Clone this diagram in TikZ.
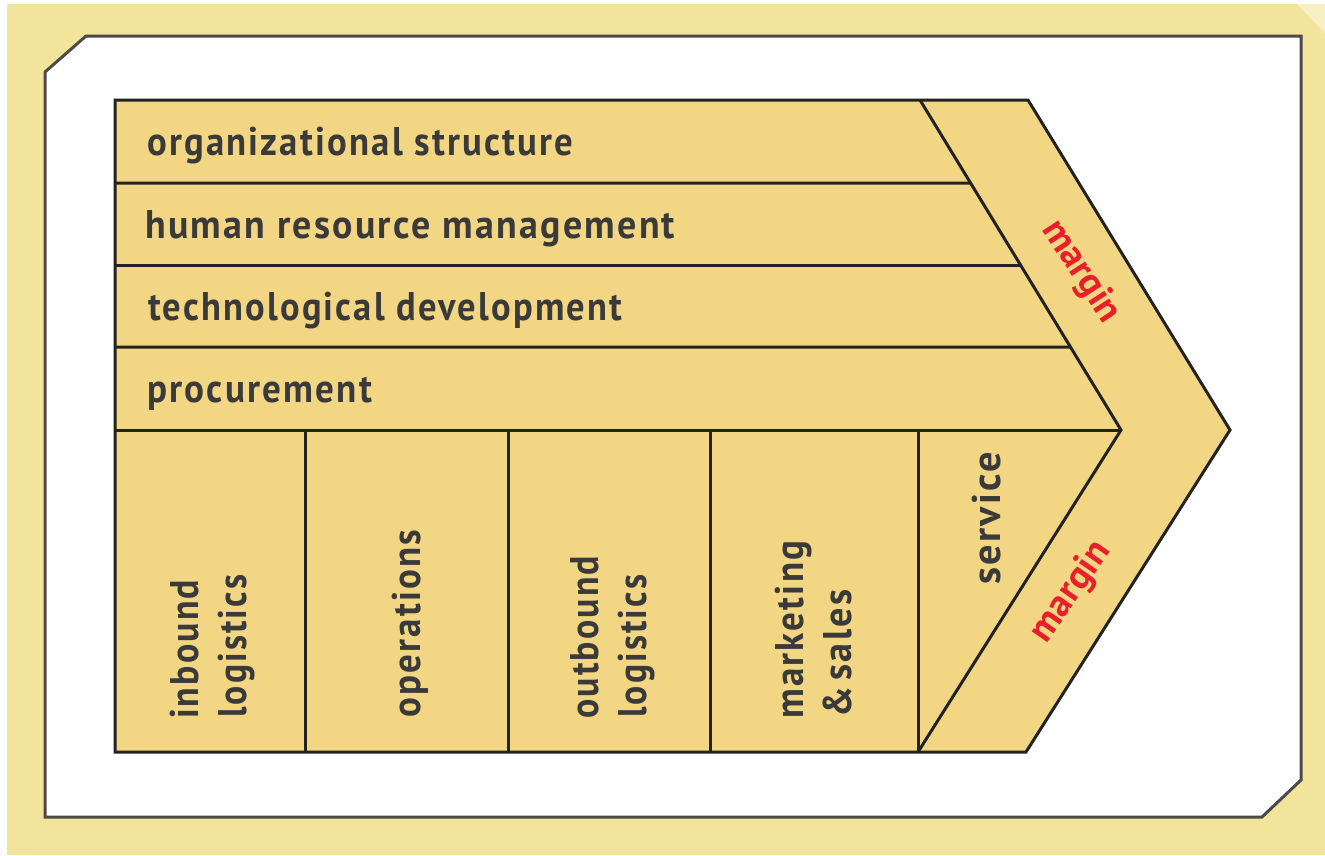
\documentclass[tikz,border=0pt]{standalone}
\usepackage{fontspec}
\usepackage{graphicx}
\usetikzlibrary{calc}
\newfontfamily\lblfont{PT Sans}[LetterSpace=6]
\newfontfamily\mfont{PT Sans}
\definecolor{bgyellow}{HTML}{F2E59B}
\definecolor{cellfill}{HTML}{F2D684}
\definecolor{ink}{HTML}{222222}
\definecolor{cardink}{HTML}{4A4A4A}
\definecolor{txt}{HTML}{3A3A3A}
\definecolor{mred}{HTML}{E8202A}
\definecolor{curl}{HTML}{F8EFC4}
\newcommand{\fitw}[2]{\resizebox{#1pt}{\height}{#2}}
\begin{document}
\begin{tikzpicture}[x=1pt,y=-1pt,
  lbl/.style={inner sep=0pt, text=txt, font=\lblfont\bfseries\fontsize{40}{44}\selectfont},
  mlbl/.style={inner sep=0pt, text=mred, font=\mfont\bfseries\fontsize{38}{40}\selectfont},
  cellline/.style={draw=ink, line width=3pt, line join=miter},
  cardline/.style={draw=cardink, line width=3pt}]
\useasboundingbox (0,0) rectangle (1325,855);
\fill[white] (0,0) rectangle (1325,855);
\fill[bgyellow] (7,4) rectangle (1325,855);
\fill[curl] (1297,4) -- (1325,4) -- (1325,33) -- cycle;
% card
\draw[cardline, fill=white] (45,72) -- (86,36) -- (1301,36) -- (1301,780) -- (1262,817) -- (45,817) -- cycle;
% chevron shape
\coordinate (tl) at (115,100);
\coordinate (tr) at (1028,100);
\coordinate (tip) at (1230,430);
\coordinate (br) at (1026,752);
\coordinate (bl) at (115,752);
\coordinate (d0) at (920,100);
\coordinate (dtip) at (1121,430);
\coordinate (d5) at (918,752);
\fill[cellfill] (tl) -- (tr) -- (tip) -- (br) -- (bl) -- cycle;
% rows
\coordinate (r1) at (115,183);
\coordinate (r2) at (115,265);
\coordinate (r3) at (115,347);
\coordinate (r4) at (115,430);
\coordinate (e1) at ($(d0)!83/330!(dtip)$);
\coordinate (e2) at ($(d0)!165/330!(dtip)$);
\coordinate (e3) at ($(d0)!247/330!(dtip)$);
\draw[cellline] (r1) -- (e1);
\draw[cellline] (r2) -- (e2);
\draw[cellline] (r3) -- (e3);
\draw[cellline] (r4) -- (dtip);
% columns
\coordinate (c1t) at (305,430); \coordinate (c1b) at (305,752);
\coordinate (c2t) at (508,430); \coordinate (c2b) at (508,752);
\coordinate (c3t) at (710,430); \coordinate (c3b) at (710,752);
\coordinate (c4t) at (918,430);
\draw[cellline] (c1t) -- (c1b);
\draw[cellline] (c2t) -- (c2b);
\draw[cellline] (c3t) -- (c3b);
\draw[cellline] (c4t) -- (d5);
\draw[cellline] (d0) -- (dtip) -- (d5);
\draw[cellline] (tl) -- (tr) -- (tip) -- (br) -- (bl) -- cycle;
% row labels
\node[lbl, anchor=base west] (org) at (147,155) {\fitw{426}{organizational structure}};
\node[lbl, anchor=base west] (hrm) at (145,238) {\fitw{530}{human resource management}};
\node[lbl, anchor=base west] (tech) at (148,320) {\fitw{474}{technological development}};
\node[lbl, anchor=base west] (proc) at (147,402) {\fitw{225}{procurement}};
% column labels
\node[lbl, rotate=90, anchor=base west] (inb1) at (198,719) {\fitw{139}{inbound}};
\node[lbl, rotate=90, anchor=base west] (inb2) at (246,718) {\fitw{143}{logistics}};
\node[lbl, rotate=90, anchor=base west] (ops) at (420,718) {\fitw{188}{operations}};
\node[lbl, rotate=90, anchor=base west] (outb1) at (598,719) {\fitw{163}{outbound}};
\node[lbl, rotate=90, anchor=base west] (outb2) at (646,718) {\fitw{143}{logistics}};
\node[lbl, rotate=90, anchor=base west] (mkt1) at (803,719) {\fitw{178}{marketing}};
\node[lbl, rotate=90, anchor=base west] (mkt2) at (851,718) {\fitw{128}{\&\,sales}};
\node[lbl, rotate=90, anchor=base west] (serv) at (1000,585) {\fitw{133}{service}};
% margin labels
\node[mlbl, rotate=-57] (m1) at (1081,272) {margin};
\node[mlbl, rotate=55] (m2) at (1071,592) {margin};
\end{tikzpicture}
\end{document}
